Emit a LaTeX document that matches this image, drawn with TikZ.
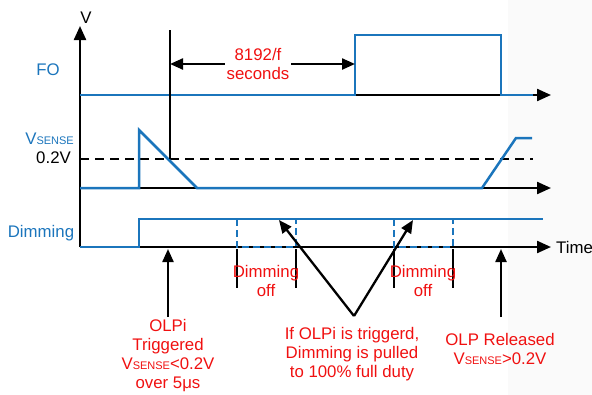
\documentclass[tikz,border=0pt]{standalone}
\usepackage{fontspec}
\setmainfont{Liberation Sans}
\usetikzlibrary{arrows.meta}
\definecolor{sigblue}{HTML}{1B75BC}
\definecolor{txtred}{HTML}{F01010}
\begin{document}
\begin{tikzpicture}[x=1pt,y=-1pt,
  axis/.style={line width=2.3pt,black,-{Triangle[length=14pt,width=12pt]}},
  sig/.style={line width=2.5pt,sigblue,line join=miter},
  marker/.style={line width=2.3pt,black},
  ptr/.style={line width=2.3pt,black,-{Triangle[length=13pt,width=11pt]}},
  offdash/.style={line width=2.3pt,sigblue,dash pattern=on 7pt off 4pt},
  lbl/.style={font=\fontsize{16.8}{19}\selectfont,inner sep=0pt,align=center},
  redlbl/.style={lbl,text=txtred},
  bluelbl/.style={lbl,text=sigblue}]
\useasboundingbox (0,0) rectangle (592,394);
\fill[gray!4,rounded corners=30pt] (508,-40) rectangle (640,430);
% coordinates
\coordinate (o) at (80,247);
\coordinate (vtop) at (80,26);
\coordinate (foS) at (80,95);  \coordinate (foE) at (551,95);
\coordinate (vsS) at (80,188); \coordinate (vsE) at (551,188);
\coordinate (tE) at (551,247);
% axes
\draw[axis] (o) -- (vtop);
\draw[axis] (foS) -- (foE);
\draw[axis] (vsS) -- (vsE);
\draw[axis] (o) -- (tE);
\node[lbl,anchor=south] (vlab) at (86,24) {V};
\node[lbl,anchor=west] (tlab) at (556,247) {Time};
% FO signal
\draw[sig] (80,95) -- (355,95) -- (355,35) -- (501,35) -- (501,95) -- (533,95);
\node[bluelbl] (folab) at (48,70) {FO};
% threshold
\draw[line width=2.3pt,dash pattern=on 9pt off 6pt] (80,159) -- (533,159);
\node[bluelbl,anchor=east] (vslab) at (74,139) {V{\fontsize{11}{11}\selectfont SENSE}};
\node[lbl,anchor=east] (thr) at (71,158) {0.2V};
% VSENSE signal
\draw[sig] (80,188) -- (139,188) -- (139,130) -- (197,188) -- (482,188) -- (516,138) -- (532,138);
% 8192/f marker
\coordinate (mkT) at (170,30);
\coordinate (mkB) at (170,159);
\draw[marker] (mkT) -- (mkB);
\node[redlbl] (sec) at (258,64) {8192/f\\seconds};
\coordinate (aL) at (170,64);
\coordinate (aR) at (355,64);
\draw[ptr] (sec.west) ++(-2,0) coordinate (sw) -- (aL);
\draw[ptr] (sec.east) ++(2,0) coordinate (se) -- (aR);
% Dimming signal
\draw[sig] (80,247) -- (139,247) -- (139,219) -- (543,219);
\node[bluelbl] (dimlab) at (41,233) {Dimming};
% dimming off windows
\foreach \a/\b in {237/296,394/453}{
  \draw[marker] (\a,249) -- (\a,288);
  \draw[marker] (\b,249) -- (\b,288);
  \draw[offdash] (\a,219) -- (\a,247) -- (\b,247) -- (\b,219);
}
\node[redlbl] (off1) at (266,281) {Dimming\\off};
\node[redlbl] (off2) at (423,281) {Dimming\\off};
% V-shaped pointers
\coordinate (apex) at (354,316);
\coordinate (p1) at (279,220);
\coordinate (p2) at (413,220);
\draw[ptr] (apex) -- (p1);
\draw[ptr] (apex) -- (p2);
\node[redlbl] (ifolp) at (352,354) {If OLPi is triggerd,\\Dimming is pulled\\to 100\% full duty};
% OLPi arrow
\coordinate (olpiB) at (168,317);
\coordinate (olpiT) at (168,249);
\draw[ptr] (olpiB) -- (olpiT);
\node[redlbl] (olpi) at (168,356) {OLPi\\Triggered\\V{\fontsize{11}{11}\selectfont SENSE}<0.2V\\over 5μs};
% OLP Released arrow
\coordinate (relB) at (501,317);
\coordinate (relT) at (501,249);
\draw[ptr] (relB) -- (relT);
\node[redlbl] (rel) at (500,349) {OLP Released\\V{\fontsize{11}{11}\selectfont SENSE}>0.2V};
\end{tikzpicture}
\end{document}
